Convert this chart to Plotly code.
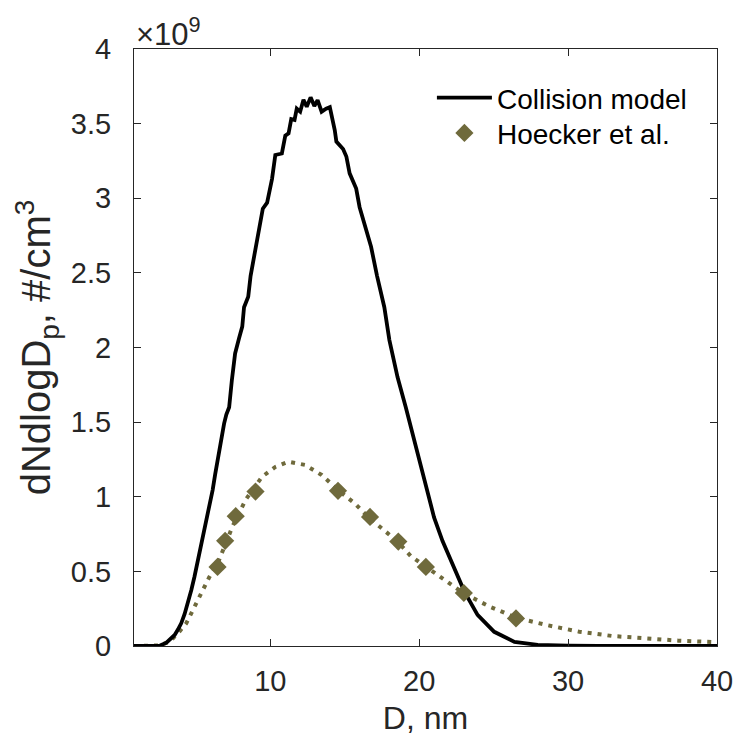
import plotly.graph_objects as go

# Collision model (D in nm, dN/dlogDp in units of 1e9 #/cm^3)
coll_D = [0.85, 2.0, 2.6, 3.03, 3.3, 3.58, 3.8, 4.02, 4.25, 4.46, 4.7, 4.91, 5.12, 5.35,
          5.55, 5.73, 5.93, 6.13, 6.3, 6.46, 6.57, 6.9, 7.05, 7.24, 7.42, 7.64, 7.9, 8.12,
          8.24, 8.52, 8.68, 8.79, 9.12, 9.23, 9.5, 9.79, 10.12, 10.34, 10.78, 11.01, 11.23,
          11.41, 11.63, 11.78, 12.01, 12.23, 12.45, 12.71, 12.96, 13.18, 13.45, 13.75, 14.0,
          14.33, 14.44, 14.89, 15.11, 15.33, 15.77, 16.0, 16.33, 16.77, 17.17, 17.66, 18.0,
          18.55, 19.1, 19.66, 20.3, 20.68, 21.0, 21.57, 22.14, 23.03, 23.92, 25.04, 26.4,
          27.96, 30.0, 32.0, 40.0]
coll_y = [0, 0, 0.003, 0.022, 0.045, 0.074, 0.11, 0.152, 0.215, 0.286, 0.375, 0.464, 0.56, 0.665,
          0.755, 0.844, 0.945, 1.045, 1.15, 1.246, 1.30, 1.49, 1.55, 1.60, 1.78, 1.96, 2.06, 2.14,
          2.27, 2.34, 2.48, 2.54, 2.72, 2.75, 2.93, 2.97, 3.13, 3.29, 3.30, 3.42, 3.435,
          3.53, 3.525, 3.60, 3.58, 3.66, 3.613, 3.676, 3.618, 3.658, 3.58, 3.60, 3.61,
          3.457, 3.38, 3.33, 3.28, 3.167, 3.065, 2.94, 2.83, 2.675, 2.48, 2.27, 2.05,
          1.80, 1.60, 1.38, 1.134, 0.975, 0.862, 0.703, 0.57, 0.366, 0.208, 0.095, 0.027,
          0.008, 0.002, 0, 0]

# Hoecker et al. fit (dotted)
fit_D = [0.85, 2.0, 2.6, 3.25, 3.8, 4.36, 4.8, 5.24, 5.9, 6.46, 7.0, 7.46, 8.35, 9.45, 10.34,
         11.23, 12.34, 13.45, 14.55, 15.67, 16.55, 17.6, 18.55, 19.43, 20.43, 21.65, 22.98,
         24.76, 26.5, 28.53, 30.75, 32.97, 35.18, 37.4, 40.0]
fit_y = [0, 0, 0.004, 0.03, 0.085, 0.152, 0.24, 0.33, 0.46, 0.55, 0.69, 0.80, 0.98, 1.134, 1.20,
         1.235, 1.213, 1.146, 1.045, 0.956, 0.866, 0.78, 0.70, 0.603, 0.531, 0.442, 0.353,
         0.263, 0.19, 0.141, 0.096, 0.067, 0.051, 0.036, 0.025]

# Hoecker et al. data points
hoe_D = [6.46, 6.97, 7.68, 9.01, 14.55, 16.7, 18.6, 20.45, 23.0, 26.5]
hoe_y = [0.53, 0.705, 0.87, 1.035, 1.04, 0.865, 0.70, 0.53, 0.355, 0.185]

x_ticks = [10, 20, 30, 40]
y_ticks = [0, 0.5, 1, 1.5, 2, 2.5, 3, 3.5, 4]
y_ticktext = ["0", "0.5", "1", "1.5", "2", "2.5", "3", "3.5", "4"]

olive = "#6f6a3c"
axcol = "#262626"
font = "Liberation Sans, Arial, sans-serif"

fig = go.Figure()
fig.add_trace(go.Scatter(x=fit_D, y=fit_y, mode="lines", showlegend=False,
                         line=dict(color=olive, width=4, dash="4px,6px")))
fig.add_trace(go.Scatter(x=coll_D, y=coll_y, mode="lines", name="Collision model",
                         legend="legend", line=dict(color="black", width=3.8)))
fig.add_trace(go.Scatter(x=hoe_D, y=hoe_y, mode="markers", name="Hoecker et al.",
                         legend="legend2",
                         marker=dict(symbol="diamond", size=14, color=olive,
                                     line=dict(width=0))))

leg_common = dict(xanchor="left", yanchor="middle", bgcolor="rgba(0,0,0,0)",
                  borderwidth=0, itemwidth=55, font=dict(size=28, color="black"))

fig.update_layout(
    width=745, height=745, autosize=False,
    margin=dict(l=134, r=22, t=49, b=99),
    paper_bgcolor="white", plot_bgcolor="white",
    font=dict(family=font, size=29, color=axcol),
    legend=dict(x=0.511, y=0.918, **leg_common),
    legend2=dict(x=0.511, y=0.859, **leg_common),
    annotations=[dict(text="×10<sup>9</sup>", xref="paper", yref="paper",
                      x=0, y=1, xanchor="left", yanchor="bottom", showarrow=False,
                      font=dict(size=31, color=axcol), xshift=0, yshift=-5)],
)
fig.update_xaxes(range=[0.85, 40], tickvals=x_ticks, ticks="inside", ticklen=7,
                 tickcolor=axcol, showline=True, linecolor=axcol, linewidth=1,
                 mirror="ticks", showgrid=False, zeroline=False,
                 ticklabelstandoff=9,
                 title=dict(text="D, nm", font=dict(size=32), standoff=10))
fig.update_yaxes(range=[0, 4], tickvals=y_ticks, ticktext=y_ticktext, ticks="inside",
                 ticklen=7, tickcolor=axcol, showline=True, linecolor=axcol, linewidth=1,
                 mirror="ticks", showgrid=False, zeroline=False,
                 ticklabelstandoff=16,
                 title=dict(text="dNdlogD<sub>p</sub>, #/cm<sup>3</sup>", font=dict(size=40),
                            standoff=7))

fig.write_html("out.html")
